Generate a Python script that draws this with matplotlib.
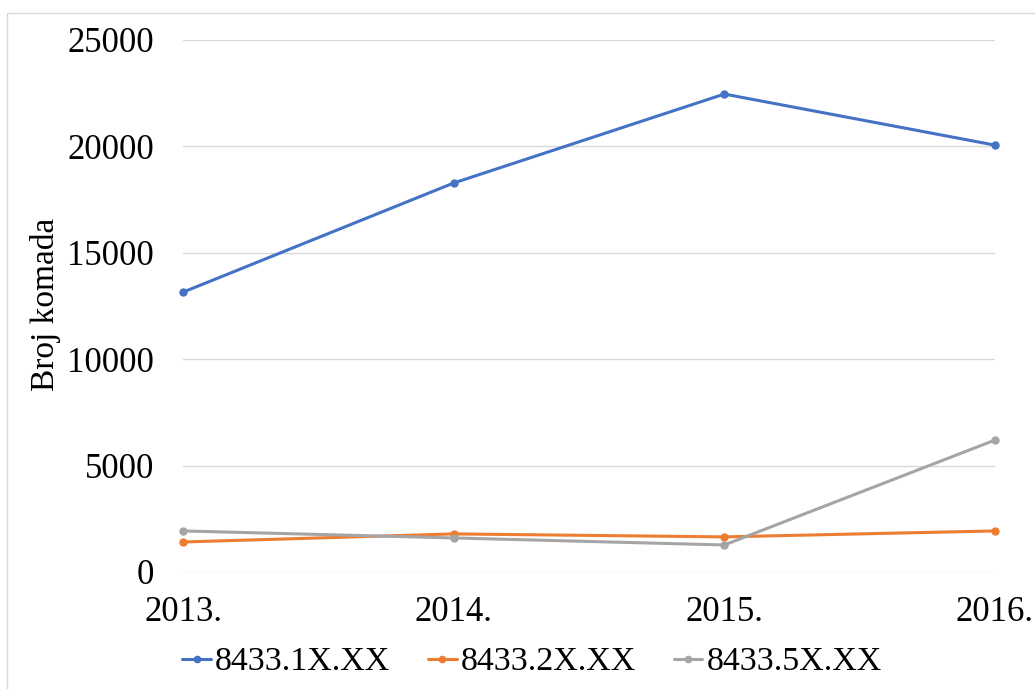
import matplotlib

matplotlib.use("Agg")
import matplotlib.pyplot as plt
from matplotlib.patches import Rectangle

plt.rcParams["font.family"] = ["Liberation Serif", "DejaVu Serif"]

years = ["2013.", "2014.", "2015.", "2016."]
s1 = [13150, 18280, 22460, 20060]  # 8433.1X.XX
s2 = [1410, 1790, 1650, 1930]  # 8433.2X.XX
s3 = [1930, 1600, 1270, 6200]  # 8433.5X.XX
names = ["8433.1X.XX", "8433.2X.XX", "8433.5X.XX"]
colors = ["#4472C4", "#ED7D31", "#A5A5A5"]

FS = 25

fig = plt.figure(figsize=(10.35, 6.89), dpi=100)
ax = fig.add_axes([183 / 1035, 1 - 572 / 689, (995 - 183) / 1035, (572 - 40) / 689])

x = range(len(years))
for vals, name, c in zip([s1, s2, s3], names, colors):
    ax.plot(x, vals, color=c, lw=2.2, marker="o", ms=5, label=name,
            solid_capstyle="round", clip_on=False, zorder=3)

ax.set_xlim(0, 3)
ax.set_ylim(0, 25000)
ax.set_yticks(range(0, 25001, 5000))
ax.set_xticks(list(x))
ax.set_xticklabels(years)
ax.grid(axis="y", color="#d9d9d9", lw=1)
ax.set_axisbelow(True)
for sp in ax.spines.values():
    sp.set_visible(False)
ax.tick_params(axis="y", length=0, pad=21, labelsize=FS)
ax.tick_params(axis="x", length=0, pad=17.5, labelsize=FS)

fig.text(46 / 1035, 1 - 304 / 689, "Broj komada", rotation=90,
         ha="center", va="center", fontsize=24)

fig.legend(loc="center", bbox_to_anchor=(532 / 1035, 1 - 662 / 689), ncol=3,
           frameon=False, fontsize=24.5, handlelength=0.85, handletextpad=0.12,
           columnspacing=1.1, markerscale=0.9)

fig.patches.append(Rectangle((7 / 1035, -0.01), 1.02, 1 - 13 / 689 + 0.01,
                             transform=fig.transFigure, fill=False,
                             edgecolor="#d9d9d9", lw=1))

fig.savefig("out.png", dpi=100)
